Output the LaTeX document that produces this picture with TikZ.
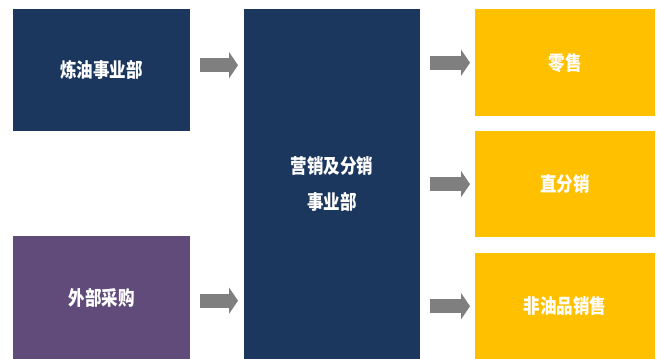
\documentclass[tikz,border=0pt]{standalone}
\usepackage{fontspec}
\newfontfamily\cjk{Noto Sans CJK SC}
\usetikzlibrary{arrows.meta}
\definecolor{navy}{HTML}{1B375E}
\definecolor{plum}{HTML}{614B7A}
\definecolor{gold}{HTML}{FFC000}
\definecolor{arrowgray}{HTML}{7F7F7F}
\begin{document}
\begin{tikzpicture}[x=1pt,y=-1pt,
  box/.style={draw=none,anchor=north west,inner sep=0pt,
    font=\cjk\bfseries\fontsize{16.5}{24}\selectfont,text=white,align=center},
  flow/.style={draw=arrowgray,line width=14pt,
    -{Triangle[length=9pt,width=26pt]}}]
\useasboundingbox (0,0) rectangle (662,359);
\fill[white] (0,0) rectangle (662,359);
\node[box,fill=navy,minimum width=177pt,minimum height=122pt] (a) at (13,9) {\scalebox{1}[1.2]{炼油事业部}};
\node[box,fill=plum,minimum width=177pt,minimum height=123pt] (b) at (13,236) {\scalebox{1}[1.2]{外部采购}};
\node[box,fill=navy,minimum width=176pt,minimum height=350pt] (c) at (244,9) {\scalebox{1}[1.2]{营销及分销}\\[12pt]\scalebox{1}[1.2]{事业部}};
\node[box,fill=gold,minimum width=180pt,minimum height=107pt] (r1) at (475,9) {\scalebox{1}[1.2]{零售}};
\node[box,fill=gold,minimum width=180pt,minimum height=106pt] (r2) at (475,131) {\scalebox{1}[1.2]{直分销}};
\node[box,fill=gold,minimum width=180pt,minimum height=106pt] (r3) at (475,253) {\scalebox{1}[1.2]{非油品销售}};
\draw[flow,shorten <=10pt,shorten >=6pt] ([yshift=5pt]a.east) -- ([yshift=5pt]a.east -| c.west);
\draw[flow,shorten <=10pt,shorten >=6pt] ([yshift=-3pt]b.east) -- ([yshift=-3pt]b.east -| c.west);
\draw[flow,shorten <=10pt,shorten >=5pt] (r1.west -| c.east) -- (r1.west);
\draw[flow,shorten <=10pt,shorten >=5pt] (r2.west -| c.east) -- (r2.west);
\draw[flow,shorten <=10pt,shorten >=5pt] (r3.west -| c.east) -- (r3.west);
\end{tikzpicture}
\end{document}
